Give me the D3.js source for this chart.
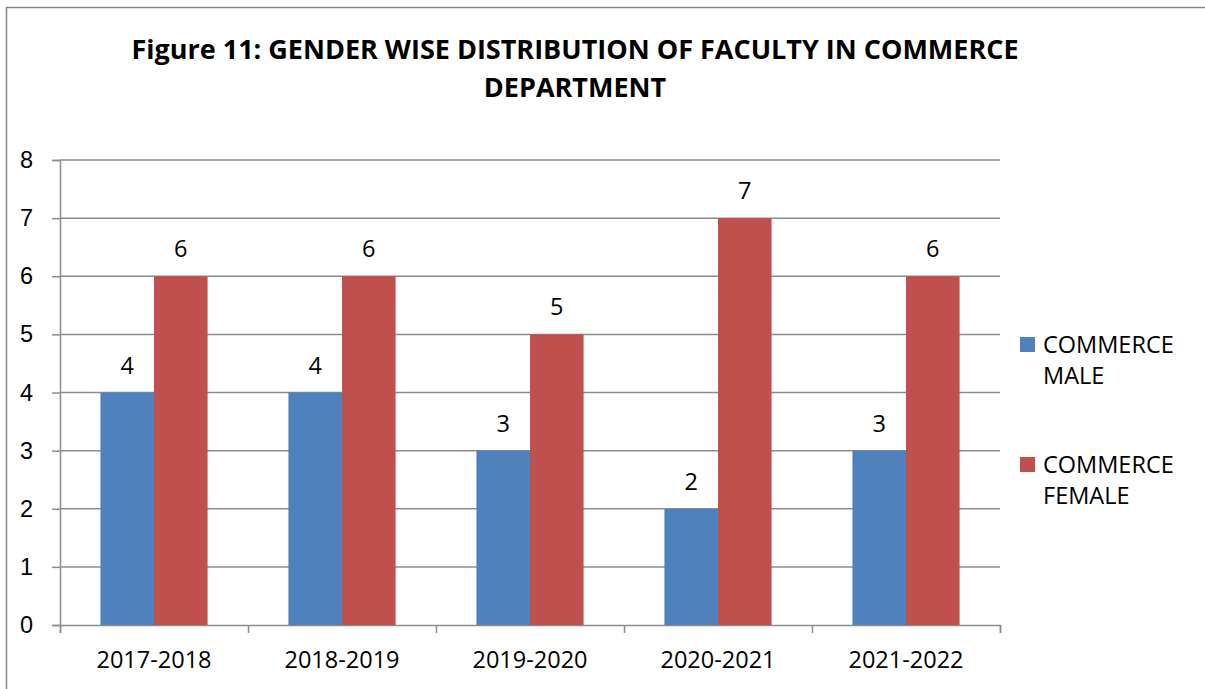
<!DOCTYPE html>
<html>
<head>
<meta charset="utf-8">
<script src="https://cdn.jsdelivr.net/npm/d3@7"></script>
<style>
  body { margin: 0; background: #fff; }
  svg { display: block; font-family: "Open Sans", Carlito, Calibri, sans-serif; }
</style>
</head>
<body>
<svg id="chart"></svg>
<script>
const years = ["2017-2018", "2018-2019", "2019-2020", "2020-2021", "2021-2022"];
const seriesNames = ["COMMERCE MALE", "COMMERCE FEMALE"];
const maleValues = [4, 4, 3, 2, 3];
const femaleValues = [6, 6, 5, 7, 6];
const yTicks = [0, 1, 2, 3, 4, 5, 6, 7, 8];
const colors = ["#4F81BD", "#C0504D"];

const width = 1205, height = 689;
const plot = { left: 60, right: 1000, top: 160, bottom: 625 };
const fontSize = 23.5;

const svg = d3.select("#chart").attr("width", width).attr("height", height);

// outer frame
svg.append("rect")
  .attr("x", 6.5).attr("y", 7.5)
  .attr("width", width + 10).attr("height", height + 10)
  .attr("fill", "none").attr("stroke", "#868686").attr("stroke-width", 1.5);

// title
const title = svg.append("text")
  .attr("text-anchor", "middle")
  .attr("font-weight", "bold")
  .attr("font-size", 27)
  .attr("fill", "#000");
title.append("tspan").attr("x", 575).attr("y", 59)
  .text("Figure 11: GENDER WISE DISTRIBUTION OF FACULTY IN COMMERCE");
title.append("tspan").attr("x", 575).attr("y", 97).text("DEPARTMENT");

const y = d3.scaleLinear().domain([0, 8]).range([plot.bottom, plot.top]);
const x0 = d3.scaleBand().domain(years).range([plot.left, plot.right])
  .paddingInner(0.43).paddingOuter(0.215);
const x1 = d3.scaleBand().domain(seriesNames).range([0, x0.bandwidth()]);
const xEdges = d3.scaleLinear().domain([0, years.length]).range([plot.left, plot.right]);

// gridlines
svg.append("g").selectAll("line")
  .data(yTicks.filter(d => d > 0))
  .join("line")
  .attr("x1", plot.left).attr("x2", plot.right)
  .attr("y1", d => y(d)).attr("y2", d => y(d))
  .attr("stroke", "#8c8c8c").attr("stroke-width", 1.5);

// y axis
const yAxis = svg.append("g")
  .attr("transform", `translate(${plot.left},0)`)
  .call(d3.axisLeft(y).tickValues(yTicks).tickSize(8).tickPadding(19));
yAxis.select(".domain").attr("stroke", "#8c8c8c").attr("stroke-width", 1.5);
yAxis.selectAll(".tick line").attr("stroke", "#8c8c8c").attr("stroke-width", 1.5);
yAxis.selectAll("text").attr("font-size", fontSize).attr("font-family", null).attr("fill", "#000");

// x axis with ticks at category boundaries
const xAxis = svg.append("g")
  .attr("transform", `translate(0,${plot.bottom})`)
  .call(d3.axisBottom(xEdges).tickValues(d3.range(years.length + 1)).tickSize(8).tickFormat(""));
xAxis.select(".domain").attr("stroke", "#8c8c8c").attr("stroke-width", 1.5);
xAxis.selectAll(".tick line").attr("stroke", "#8c8c8c").attr("stroke-width", 1.5);

svg.append("g").selectAll("text")
  .data(years)
  .join("text")
  .attr("x", d => x0(d) + x0.bandwidth() / 2)
  .attr("y", 668)
  .attr("text-anchor", "middle")
  .attr("font-size", fontSize)
  .text(d => d);

// bars
const table = years.map((yr, i) => ({ year: yr, values: [maleValues[i], femaleValues[i]] }));
const groups = svg.append("g").selectAll("g")
  .data(table)
  .join("g")
  .attr("transform", d => `translate(${x0(d.year)},0)`);

groups.selectAll("rect")
  .data(d => d.values.map((v, j) => ({ name: seriesNames[j], value: v, j })))
  .join("rect")
  .attr("x", d => x1(d.name))
  .attr("y", d => y(d.value))
  .attr("width", x1.bandwidth())
  .attr("height", d => y(0) - y(d.value))
  .attr("fill", d => colors[d.j]);

groups.selectAll("text")
  .data(d => d.values.map((v, j) => ({ name: seriesNames[j], value: v })))
  .join("text")
  .attr("x", d => x1(d.name) + x1.bandwidth() / 2)
  .attr("y", d => y(d.value) - 19)
  .attr("text-anchor", "middle")
  .attr("font-size", fontSize)
  .text(d => d.value);

// legend
const legend = svg.append("g").selectAll("g")
  .data(seriesNames)
  .join("g")
  .attr("transform", (d, i) => `translate(1020,${337 + i * 120})`);
legend.append("rect")
  .attr("width", 15).attr("height", 15)
  .attr("fill", (d, i) => colors[i]);
const lt = legend.append("text").attr("font-size", fontSize);
lt.append("tspan").attr("x", 23).attr("y", 16).text(d => d.split(" ")[0]);
lt.append("tspan").attr("x", 23).attr("y", 47).text(d => d.split(" ")[1]);
</script>
</body>
</html>
